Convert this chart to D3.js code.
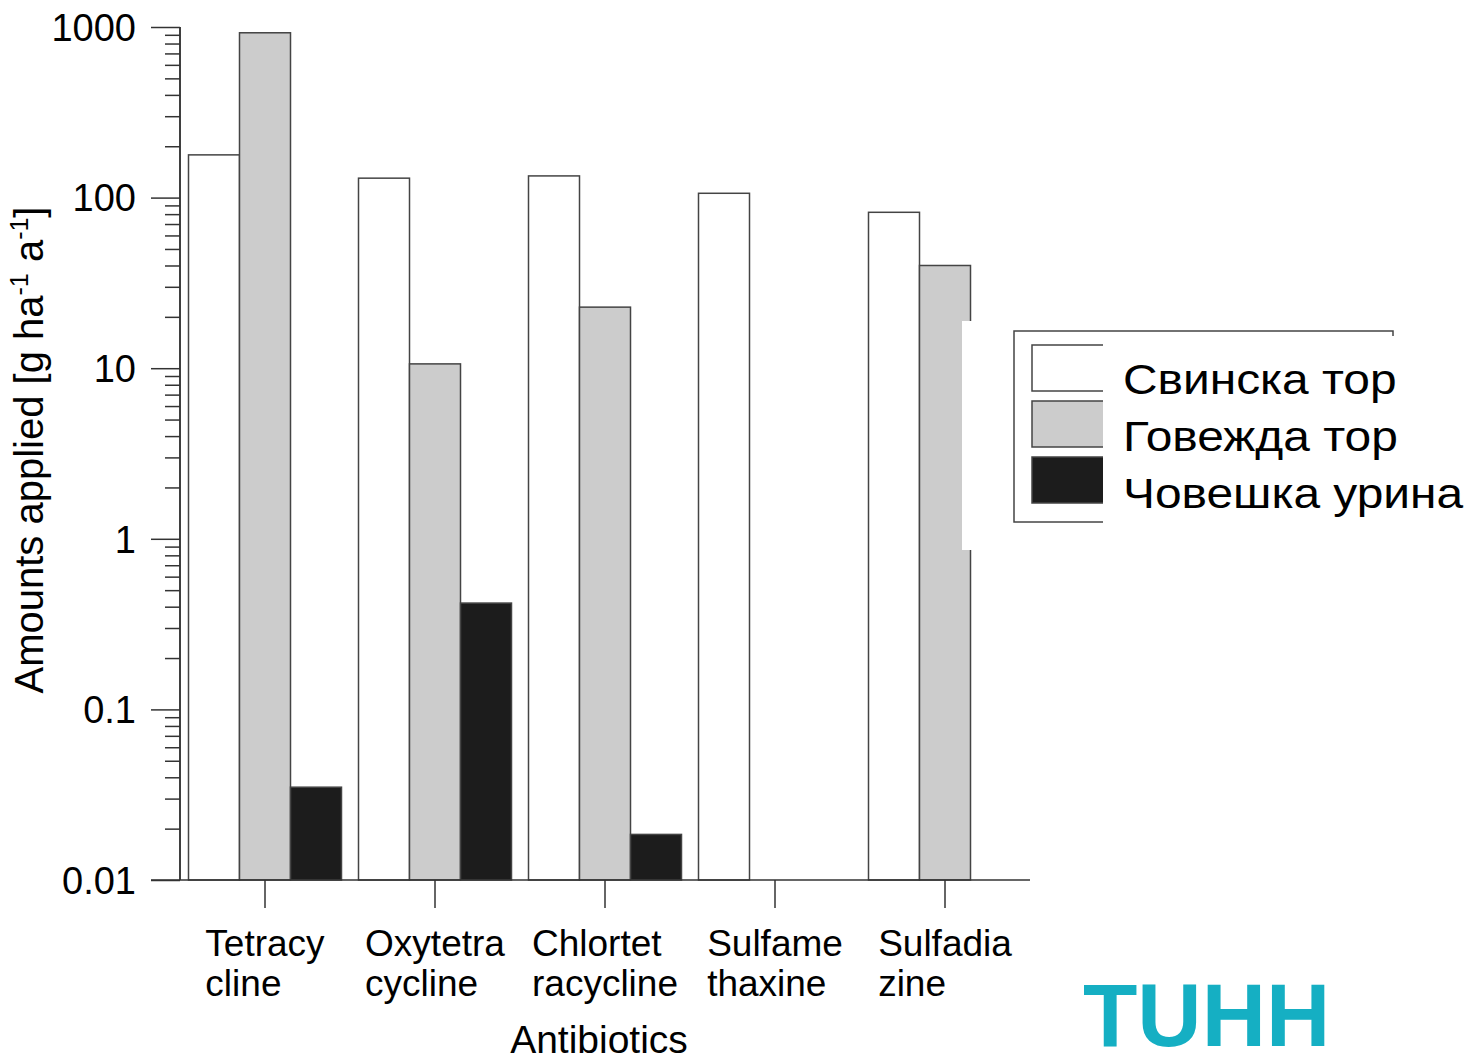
<!DOCTYPE html>
<html>
<head>
<meta charset="utf-8">
<script src="https://cdn.jsdelivr.net/npm/d3@7"></script>
<style>
  body { margin: 0; background: #fff; }
  text { font-family: Arial, "Liberation Sans", sans-serif; fill: #000; }
</style>
</head>
<body>
<div id="chart"></div>
<script>
// data
var antibiotics = ["Tetracycline", "Oxytetracycline", "Chlortetracycline", "Sulfamethaxine", "Sulfadiazine"];
var labelLines = [["Tetracy", "cline"], ["Oxytetra", "cycline"], ["Chlortet", "racycline"], ["Sulfame", "thaxine"], ["Sulfadia", "zine"]];
var seriesNames = ["Свинска тор", "Говежда тор", "Човешка урина"];
var pigManure = [178, 130, 134, 106, 82];
var cattleManure = [925, 10.6, 22.8, null, 40];
var humanUrine = [0.035, 0.42, 0.0185, null, null];
var yTicks = [0.01, 0.1, 1, 10, 100, 1000];
var yTickLabels = ["0.01", "0.1", "1", "10", "100", "1000"];

var fills = ["#ffffff", "#cccccc", "#1c1c1c"];
var series = [pigManure, cattleManure, humanUrine];

var width = 1471, height = 1057;
var plot = { left: 180, right: 1030, top: 27, bottom: 880 };

var svg = d3.select("#chart").append("svg")
            .attr("width", width)
            .attr("height", height);

var y = d3.scaleLog()
          .domain([0.01, 1000])
          .range([plot.bottom, plot.top]);

var x = d3.scaleBand()
          .domain(antibiotics)
          .range([plot.left, plot.right])
          .paddingInner(0.1)
          .paddingOuter(0.05);

var x1 = d3.scaleBand()
           .domain(d3.range(seriesNames.length))
           .range([0, x.bandwidth()]);

// bars
var rows = [];
antibiotics.forEach(function(a, i) {
  series.forEach(function(s, j) {
    if (s[i] != null) rows.push({ name: a, k: j, v: s[i] });
  });
});

svg.append("g")
  .selectAll("rect")
  .data(rows)
  .enter().append("rect")
    .attr("x", d => x(d.name) + x1(d.k))
    .attr("y", d => y(d.v))
    .attr("width", x1.bandwidth())
    .attr("height", d => y.range()[0] - y(d.v))
    .attr("fill", d => fills[d.k])
    .attr("stroke", "#444")
    .attr("stroke-width", 1.5);

// y axis: minor ticks, then major with labels
var minor = [];
yTicks.slice(0, -1).forEach(function(t) {
  for (var m = 2; m <= 9; m++) minor.push(t * m);
});

var yMinor = svg.append("g")
  .attr("transform", "translate(" + plot.left + ",0)")
  .call(d3.axisLeft(y).tickValues(minor).tickSize(15).tickFormat(""));

var yMajor = svg.append("g")
  .attr("transform", "translate(" + plot.left + ",0)")
  .call(d3.axisLeft(y).tickValues(yTicks).tickSize(29).tickPadding(15)
          .tickFormat((d, i) => yTickLabels[i]));

[yMinor, yMajor].forEach(function(g) {
  g.selectAll("path, line").attr("stroke", "#333").attr("stroke-width", 1.5);
  g.select(".domain").attr("d", "M0," + plot.top + "V" + plot.bottom);
});
yMajor.selectAll("text")
  .style("font-size", "38px")
  .attr("dy", "0.35em");

// x axis
var xAxis = svg.append("g")
  .attr("transform", "translate(0," + plot.bottom + ")")
  .call(d3.axisBottom(x).tickSize(28).tickFormat(""));
xAxis.selectAll("path, line").attr("stroke", "#333").attr("stroke-width", 1.5);
xAxis.select(".domain").attr("d", "M" + (plot.left - 29) + ",0H" + plot.right);

// two-line category labels, block centred on tick, lines left aligned
antibiotics.forEach(function(a, i) {
  var cx = x(a) + x.bandwidth() / 2;
  var t = svg.append("text").style("font-size", "37px");
  labelLines[i].forEach(function(line, k) {
    t.append("tspan").attr("x", 0).attr("y", 956 + k * 40).text(line);
  });
  var w = d3.max(t.selectAll("tspan").nodes(), n => n.getComputedTextLength());
  t.selectAll("tspan").attr("x", cx - w / 2);
});

svg.append("text")
  .attr("x", 599)
  .attr("y", 1053)
  .attr("text-anchor", "middle")
  .style("font-size", "39px")
  .text("Antibiotics");

// y title with superscripts
var yt = svg.append("text")
  .attr("transform", "translate(43,450) rotate(-90)")
  .attr("text-anchor", "middle")
  .style("font-size", "40px");
yt.append("tspan").text("Amounts applied [g ha");
yt.append("tspan").attr("dy", -15).style("font-size", "25px").text("-1");
yt.append("tspan").attr("dy", 15).text(" a");
yt.append("tspan").attr("dy", -15).style("font-size", "25px").text("-1");
yt.append("tspan").attr("dy", 15).text("]");

// legend (with the white patches that overlap it in the original slide)
svg.append("rect").attr("x", 962).attr("y", 321).attr("width", 141).attr("height", 229).attr("fill", "#fff");
svg.append("rect").attr("x", 1014).attr("y", 331).attr("width", 379).attr("height", 191)
  .attr("fill", "#fff").attr("stroke", "#444").attr("stroke-width", 1.5);

var legend = svg.append("g");
seriesNames.forEach(function(name, i) {
  legend.append("rect")
    .attr("x", 1032).attr("y", 345 + i * 56)
    .attr("width", 80).attr("height", 46)
    .attr("fill", fills[i]).attr("stroke", "#444").attr("stroke-width", 1.5);
});
svg.append("rect").attr("x", 1103).attr("y", 336).attr("width", 330).attr("height", 214).attr("fill", "#fff");
seriesNames.forEach(function(name, i) {
  svg.append("text")
    .attr("transform", "translate(1123," + (394 + i * 57) + ") scale(1.14,1)")
    .style("font-size", "42px")
    .text(name);
});

// TUHH logo
svg.append("text")
  .attr("x", 1083)
  .attr("y", 1046)
  .style("font-size", "89px")
  .style("font-weight", "bold")
  .style("fill", "#15afc3")
  .text("TUHH");
</script>
</body>
</html>
